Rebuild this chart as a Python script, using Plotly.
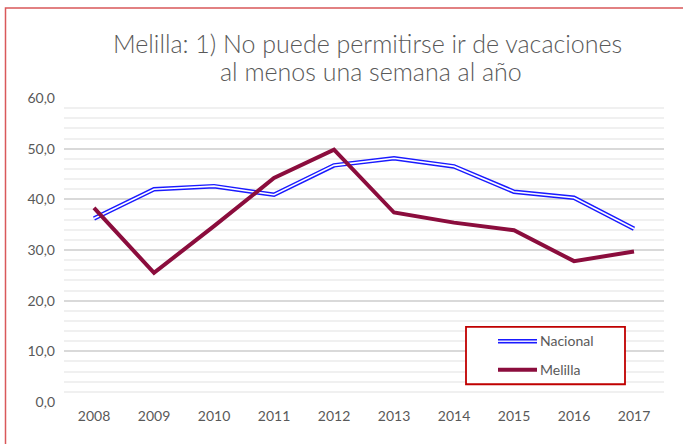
import plotly.graph_objects as go

years = ["2008", "2009", "2010", "2011", "2012", "2013", "2014", "2015", "2016", "2017"]
nacional = [36.2, 42.0, 42.6, 40.9, 46.7, 48.1, 46.5, 41.5, 40.3, 34.2]
melilla = [38.3, 25.5, 34.7, 44.2, 49.8, 37.4, 35.4, 33.9, 27.8, 29.7]
series_names = ["Nacional", "Melilla"]
title_lines = ["Melilla: 1) No puede permitirse ir de vacaciones", "al menos una semana al año"]

W, H = 683, 444
L, R, T, B = 64, 664, 97.7, 402.3
FONT = "Lato"
GREY = "#595959"
BLUE = "#1a1aff"
MAROON = "#8b0d3d"


def px(x):
    return (x - L) / (R - L)


def py(y):
    return (B - y) / (B - T)


fig = go.Figure()
fig.add_trace(go.Scatter(x=years, y=nacional, mode="lines", line=dict(color=BLUE, width=4.5),
                         showlegend=False, hoverinfo="skip"))
fig.add_trace(go.Scatter(x=years, y=nacional, mode="lines", line=dict(color="white", width=1.6),
                         name=series_names[0], showlegend=False))
fig.add_trace(go.Scatter(x=years, y=melilla, mode="lines", line=dict(color=MAROON, width=4),
                         name=series_names[1], showlegend=False))

shapes = []
# outer chart border
shapes.append(dict(type="rect", xref="paper", yref="paper", x0=px(5.5), x1=px(720), y0=py(7.5), y1=py(480),
                   line=dict(color="#d9585a", width=1.5), fillcolor="rgba(0,0,0,0)", layer="above"))
# legend box
shapes.append(dict(type="rect", xref="paper", yref="paper", x0=px(466), x1=px(625), y0=py(327), y1=py(384.5),
                   line=dict(color="#c00000", width=1.8), fillcolor="white", layer="above"))
# legend samples
shapes.append(dict(type="line", xref="paper", yref="paper", x0=px(498), x1=px(537), y0=py(341.5), y1=py(341.5),
                   line=dict(color=BLUE, width=4.5), layer="above"))
shapes.append(dict(type="line", xref="paper", yref="paper", x0=px(498), x1=px(537), y0=py(341.5), y1=py(341.5),
                   line=dict(color="#e6e6ff", width=1.6), layer="above"))
shapes.append(dict(type="line", xref="paper", yref="paper", x0=px(498), x1=px(537), y0=py(370), y1=py(370),
                   line=dict(color=MAROON, width=4), layer="above"))

annotations = [
    dict(text=title_lines[0], xref="paper", yref="paper", x=px(367), y=py(43), showarrow=False,
         font=dict(family=FONT, size=25, color=GREY, weight=300), xanchor="center", yanchor="middle"),
    dict(text=title_lines[1], xref="paper", yref="paper", x=px(371), y=py(71), showarrow=False,
         font=dict(family=FONT, size=25, color=GREY, weight=300), xanchor="center", yanchor="middle"),
    dict(text=series_names[0], xref="paper", yref="paper", x=px(538), y=py(341), showarrow=False,
         font=dict(family=FONT, size=14, color=GREY), xanchor="left", yanchor="middle"),
    dict(text=series_names[1], xref="paper", yref="paper", x=px(538), y=py(370), showarrow=False,
         font=dict(family=FONT, size=14, color=GREY), xanchor="left", yanchor="middle"),
]

fig.update_layout(
    width=W, height=H,
    margin=dict(l=L, r=W - R, t=T, b=H - B),
    paper_bgcolor="white", plot_bgcolor="white",
    separators=", ",
    font=dict(family=FONT, size=13, color=GREY),
    shapes=shapes, annotations=annotations,
    showlegend=False,
)
fig.update_xaxes(type="category", range=[-0.5, 9.5], showgrid=False, zeroline=False, showline=False,
                 ticks="", ticklabelstandoff=4, tickfont=dict(family=FONT, size=14, color=GREY), fixedrange=True)
fig.update_yaxes(range=[0, 60], dtick=10, tickformat=".1f", showgrid=True, gridcolor="#d9d9d9", gridwidth=1.5,
                 zeroline=False, showline=False, ticks="", ticklabelstandoff=8,
                 tickfont=dict(family=FONT, size=14, color=GREY),
                 minor=dict(dtick=2, showgrid=True, gridcolor="#f0f0f0", gridwidth=1.5))

fig.write_html("out.html", config={"displayModeBar": False},
               post_script="document.body.style.margin='0px';")
